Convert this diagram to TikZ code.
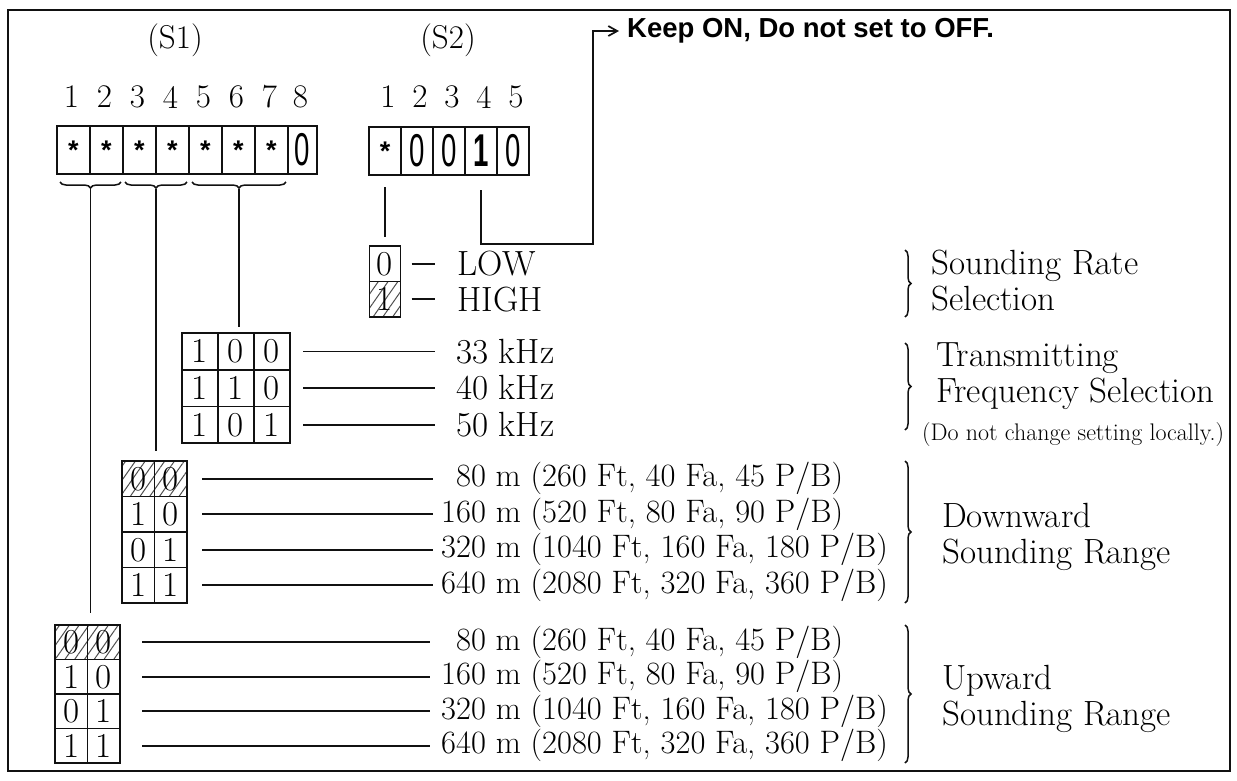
\documentclass[tikz,border=0pt]{standalone}
\usepackage{fontspec}
\usepackage{tikz}
\usetikzlibrary{
  arrows.meta,
  decorations.pathreplacing,
  patterns.meta,
  positioning
}
\newfontfamily\plateSans{Liberation Sans}
\definecolor{plateInk}{HTML}{111111}
\definecolor{plateHatch}{HTML}{4F4F4F}
\newcommand{\swStar}{{\plateSans\bfseries\fontsize{27}{27}\selectfont *}}
\newcommand{\swNarrow}[1]{\scalebox{0.6}[1]{\plateSans\fontsize{46}{46}\selectfont #1}}
\tikzset{
  swCell/.style={
    draw=plateInk,
    line width=1.8pt,
    inner sep=0pt,
    outer sep=0pt,
    anchor=north west,
    font=\fontsize{35}{35}\selectfont
  },
  swHatch/.style={
    pattern={Lines[angle=55, distance=8pt, line width=1pt]},
    pattern color=plateHatch
  },
  swPlain/.style={},
  swDigit/.style={font=\fontsize{33}{36}\selectfont, inner sep=0pt},
  swText/.style={font=\fontsize{35}{38}\selectfont, anchor=west, inner sep=0pt},
  swRange/.style={font=\fontsize{32.5}{36}\selectfont, anchor=west, inner sep=0pt},
  swLabel/.style={
    font=\fontsize{35}{36}\selectfont,
    anchor=west,
    align=left,
    inner sep=0pt
  },
  swNote/.style={font=\fontsize{24}{26}\selectfont, anchor=west, inner sep=0pt},
  swKeep/.style={
    font=\plateSans\bfseries\fontsize{27.5}{30}\selectfont,
    anchor=west,
    inner sep=0pt
  },
  swLead/.style={draw=plateInk, line width=1.7pt},
  swArrow/.style={swLead, -{Straight Barb[length=9pt, width=10pt]}},
  swBrace/.style={
    draw=plateInk,
    line width=1.5pt,
    decorate,
    decoration={brace, amplitude=6pt}
  },
  swUnderBrace/.style={
    draw=plateInk,
    line width=1.5pt,
    decorate,
    decoration={brace, mirror, amplitude=6pt}
  }
}

\begin{document}
\begin{tikzpicture}[x=1pt,y=-1pt]
  \useasboundingbox (0,0) rectangle (1237,780);
  \draw[plateInk, line width=2.6pt] (8,10) rectangle (1230,771);

  \node[swDigit] (s1Title) at (175,40) {(S1)};
  \node[swDigit] (s2Title) at (448,40) {(S2)};

  \foreach \i in {1,...,7} {
    \node[swCell, minimum width=33pt, minimum height=48pt]
      (s1c\i) at ({57+33*(\i-1)},126) {\swStar};
  }
  \node[swCell, minimum width=29pt, minimum height=48pt]
    (s1c8) at (288,126) {\swNarrow{0}};
  \foreach \i in {1,...,8}
    \node[swDigit] (s1n\i) at ([xshift=-2pt, yshift=29pt]s1c\i.north) {\i};

  \foreach \i/\v in {1/\swStar, 2/\swNarrow{0}, 3/\swNarrow{0}, 4/\swNarrow{\bfseries 1}, 5/\swNarrow{0}} {
    \node[swCell, minimum width=32pt, minimum height=48pt]
      (s2c\i) at ({369+32*(\i-1)},127) {\v};
    \node[swDigit] (s2n\i) at ([xshift=3pt, yshift=30pt]s2c\i.north) {\i};
  }

  \node[swKeep] (keep) at (627,31) {Keep ON, Do not set to OFF.};
  \coordinate (keepBend) at (593,244);

  \node[swCell, anchor=north, minimum width=31pt, minimum height=35.5pt]
    (lo) at (385,246) {0};
  \node[swCell, swHatch, anchor=north, minimum width=31pt, minimum height=35.5pt]
    (hi) at (lo.south) {1};
  \node[swText] (loT) at ([xshift=57pt]lo.east) {LOW};
  \node[swText] (hiT) at ([xshift=57pt]hi.east) {HIGH};

  \foreach \row/\a/\b/\c in {1/1/0/0, 2/1/1/0, 3/1/0/1} {
    \foreach \col/\v in {1/\a, 2/\b, 3/\c}
      \node[swCell, minimum width=36pt, minimum height=36.7pt]
        (fq\row\col) at ({182+36*(\col-1)}, {333+36.7*(\row-1)}) {\v};
  }
  \foreach \row/\khz in {1/33, 2/40, 3/50}
    \node[swText] (fqT\row) at ([xshift=166pt]fq\row3.east) {\khz~kHz};

  \foreach \row/\a/\b/\look in {1/0/0/swHatch, 2/1/0/swPlain, 3/0/1/swPlain, 4/1/1/swPlain} {
    \foreach \col/\v in {1/\a, 2/\b} {
      \node[swCell, \look, minimum width=32.5pt, minimum height=35.5pt]
        (dn\row\col) at ({122+32.5*(\col-1)}, {461+35.5*(\row-1)}) {\v};
      \node[swCell, \look, minimum width=32.5pt, minimum height=34.5pt]
        (up\row\col) at ({55+32.5*(\col-1)}, {625+34.5*(\row-1)}) {\v};
    }
  }
  \foreach \row/\range in {
      1/{\hphantom{0}80~m (260~Ft, 40~Fa, 45~P/B)},
      2/{160~m (520~Ft, 80~Fa, 90~P/B)},
      3/{320~m (1040~Ft, 160~Fa, 180~P/B)},
      4/{640~m (2080~Ft, 320~Fa, 360~P/B)}} {
    \node[swRange] (dnT\row) at ([xshift=254pt]dn\row2.east) {\range};
    \node[swRange] (upT\row) at ([xshift=321pt]up\row2.east) {\range};
  }

  \node[swLabel] (rateLab) at (931,281) {Sounding Rate\\Selection};
  \node[swLabel] (freqLab) at (936,376) {Transmitting\\Frequency Selection};
  \node[swNote] (freqNote) at (922,435) {(Do not change setting locally.)};
  \node[swLabel] (downLab) at (942,537) {Downward\\Sounding Range};
  \node[swLabel] (upLab) at (942,699) {Upward\\Sounding Range};

  \draw[swUnderBrace] ([xshift=3pt, yshift=-8pt]s1c1.south west)
    -- node[coordinate, yshift=-7pt] (tip1) {} ([xshift=-2pt, yshift=-8pt]s1c2.south east);
  \draw[swUnderBrace] ([xshift=2pt, yshift=-8pt]s1c3.south west)
    -- node[coordinate, yshift=-7pt] (tip2) {} ([xshift=-2pt, yshift=-8pt]s1c4.south east);
  \draw[swUnderBrace] ([xshift=3pt, yshift=-8pt]s1c5.south west)
    -- node[coordinate, yshift=-7pt] (tip3) {} ([xshift=-2pt, yshift=-8pt]s1c7.south east);
  \draw[swLead, shorten >=12pt] (tip1) -- (tip1 |- up11.north);
  \draw[swLead, shorten >=10pt] (tip2) -- (tip2 |- dn11.north);
  \draw[swLead, shorten >=6pt] (tip3) -- (tip3 |- fq11.north);

  \draw[swLead, shorten <=12pt, shorten >=9pt] (s2c1.south) -- (lo.north);
  \draw[swArrow, shorten <=15pt, shorten >=8pt] (s2c4.south) |- (keepBend) |- (keep.west);

  \draw[swLead, shorten <=11pt, shorten >=23pt] (lo.east) -- (loT.west);
  \draw[swLead, shorten <=11pt, shorten >=23pt] (hi.east) -- (hiT.west);
  \foreach \row in {1,2,3}
    \draw[swLead, shorten <=13pt, shorten >=21pt] (fq\row3.east) -- (fqT\row.west);
  \foreach \row in {1,...,4} {
    \draw[swLead, shorten <=15pt, shorten >=8pt] (dn\row2.east) -- (dnT\row.west);
    \draw[swLead, shorten <=22pt, shorten >=11pt] (up\row2.east) -- (upT\row.west);
  }

  \draw[swBrace] (905,250) -- (905,317);
  \draw[swBrace] (905,343) -- (905,430);
  \draw[swBrace] (905,461) -- (905,603);
  \draw[swBrace] (905,625) -- (905,763);
\end{tikzpicture}
\end{document}
